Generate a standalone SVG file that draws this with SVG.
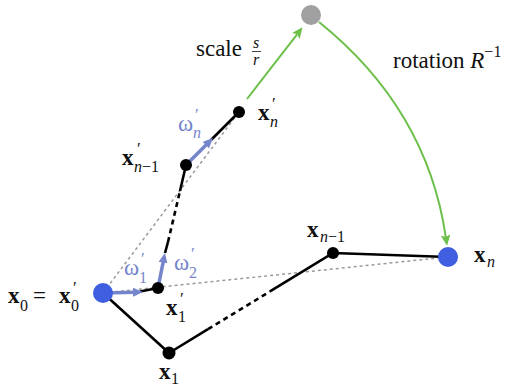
<svg xmlns="http://www.w3.org/2000/svg" width="514" height="387" viewBox="0 0 514 387">
<style>
text{font-family:'Liberation Serif','Times New Roman','DejaVu Serif',serif;fill:#111}
.m{font-size:23px}
.b{font-weight:bold}
.s{font-size:16px}
.p{font-size:17px}
.i{font-style:italic}
.w{fill:#7585cc}
.gray{stroke:#9a9a9a;stroke-width:1.5;stroke-dasharray:3 3;fill:none}
.blk{stroke:#000;stroke-width:2.6;fill:none}
.dsh{stroke:#000;stroke-width:2.6;fill:none;stroke-dasharray:5 4}
.bl{stroke:#7585cc;stroke-width:3.5;fill:none;marker-end:url(#ab)}
.gr{stroke:#6cc04a;stroke-width:2;fill:none;marker-end:url(#ag)}
.dot{fill:#000}
.big{fill:#3f5fe0}
</style>
<defs>
<marker id="ab" markerUnits="userSpaceOnUse" viewBox="0 0 10 9" markerWidth="10" markerHeight="9" refX="2" refY="4.5" orient="auto"><path d="M0,0 L10,4.5 L0,9 z" fill="#7585cc"/></marker>
<marker id="ag" markerUnits="userSpaceOnUse" viewBox="0 0 10 9" markerWidth="11" markerHeight="10" refX="2" refY="4.5" orient="auto"><path d="M0,0 L10,4.5 L0,9 L2,4.5 z" fill="#6cc04a"/></marker>
</defs>
<g id="connectors">
<path class="gray" d="M103,293 L239,112"/>
<path class="gray" d="M103,293 L448,257"/>
<path class="blk" d="M103,293 L169,353"/>
<path class="blk" d="M169,353 L208,329.2"/>
<path class="dsh" d="M208,329.2 L270,291.4"/>
<path class="blk" d="M270,291.4 L333,253"/>
<path class="blk" d="M333,253 L448,257"/>
<path class="blk" d="M140,291.5 L158,288"/>
<path class="blk" d="M165,253 L168,242"/>
<path class="dsh" d="M168,242 L180,191"/>
<path class="blk" d="M180,191 L186,165"/>
<path class="blk" d="M211,140 L239,112"/>
<path class="bl" d="M103,293 L135,292.2"/>
<path class="bl" d="M158,288 L163.4,260.8"/>
<path class="bl" d="M186,165 L207.3,143.7"/>
<path class="gr" d="M247,99 L297.1,34.3"/>
<path class="gr" d="M319,22 Q427,109 445.8,237.1"/>
</g>
<g id="x0"><circle class="big" cx="103" cy="293" r="10"/>
<text class="m"><tspan class="b" x="8" y="303">x</tspan><tspan class="s" x="20" y="311">0</tspan><tspan x="33" y="303">=</tspan><tspan class="b" x="59" y="303">x</tspan><tspan class="s" x="71" y="311">0</tspan><tspan class="p" x="73" y="293">′</tspan></text></g>
<g id="x1p"><circle class="dot" cx="158" cy="288" r="6"/>
<text class="m"><tspan class="b" x="166" y="315">x</tspan><tspan class="s" x="178" y="322">1</tspan><tspan class="p" x="180" y="304">′</tspan></text></g>
<g id="x1"><circle class="dot" cx="169" cy="353" r="6.5"/>
<text class="m"><tspan class="b" x="159" y="379">x</tspan><tspan class="s" x="171" y="384">1</tspan></text></g>
<g id="xn1"><circle class="dot" cx="333" cy="253" r="6"/>
<text class="m"><tspan class="b" x="307" y="237">x</tspan><tspan class="s i" x="320" y="242">n</tspan><tspan class="s" x="328" y="242">−1</tspan></text></g>
<g id="xn"><circle class="big" cx="448" cy="257" r="10"/>
<text class="m"><tspan class="b" x="474" y="262">x</tspan><tspan class="s i" x="487" y="267">n</tspan></text></g>
<g id="xn1p"><circle class="dot" cx="186" cy="165" r="6"/>
<text class="m"><tspan class="b" x="122" y="165">x</tspan><tspan class="s i" x="134" y="172">n</tspan><tspan class="s" x="142" y="172">−1</tspan><tspan class="p" x="137" y="154">′</tspan></text></g>
<g id="xnp"><circle class="dot" cx="239" cy="112" r="6"/>
<text class="m"><tspan class="b" x="258" y="120">x</tspan><tspan class="s i" x="270" y="127">n</tspan><tspan class="p" x="272" y="109">′</tspan></text></g>
<g id="w1"><text class="m w"><tspan x="124" y="275">ω</tspan><tspan class="s w" x="139" y="283">1</tspan><tspan class="p w" x="141" y="264">′</tspan></text></g>
<g id="w2"><text class="m w"><tspan x="174" y="270">ω</tspan><tspan class="s w" x="189" y="278">2</tspan><tspan class="p w" x="191" y="259">′</tspan></text></g>
<g id="wn"><text class="m w"><tspan x="178" y="131">ω</tspan><tspan class="s i w" x="193" y="138">n</tspan><tspan class="p w" x="195" y="120">′</tspan></text></g>
<g id="scaled"><circle cx="311" cy="15" r="10" fill="#a0a0a0"/></g>
<g id="scale"><text class="m" x="196" y="56">scale</text>
<text class="s i" x="253" y="48">s</text><line x1="252" y1="51.5" x2="261" y2="51.5" stroke="#111" stroke-width="0.8"/><text class="s i" x="253" y="65">r</text></g>
<g id="rotation"><text class="m" x="393" y="68">rotation <tspan class="i">R</tspan><tspan class="s" dy="-11">−1</tspan></text></g>
</svg>
